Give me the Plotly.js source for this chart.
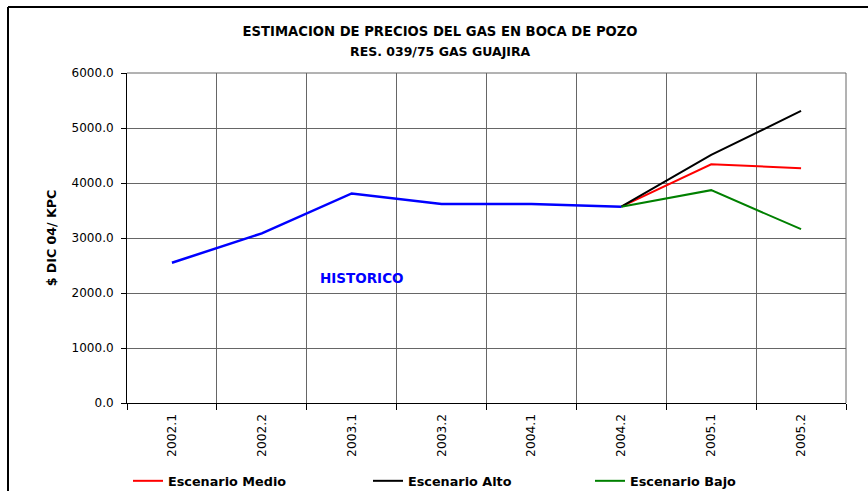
<!DOCTYPE html>
<html>
<head>
<meta charset="utf-8">
<script src="https://cdn.plot.ly/plotly-3.0.1.min.js"></script>
<style>
  html, body { margin: 0; padding: 0; background: #fff; }
  #chart { width: 868px; height: 491px; }
</style>
</head>
<body>
<div id="chart"></div>
<script>
// Categories (semesters)
const categories = ["2002.1", "2002.2", "2003.1", "2003.2", "2004.1", "2004.2", "2005.1", "2005.2"];

// Historical series (2002.1 – 2004.2)
const histCategories = ["2002.1", "2002.2", "2003.1", "2003.2", "2004.1", "2004.2"];
const histValues = [2550, 3085, 3810, 3620, 3620, 3570];

// Scenario series (2004.2 – 2005.2)
const scenCategories = ["2004.2", "2005.1", "2005.2"];
const medioValues = [3570, 4340, 4270];
const altoValues = [3570, 4510, 5310];
const bajoValues = [3570, 3870, 3160];

const yTicks = [0, 1000, 2000, 3000, 4000, 5000, 6000];

const FONT = "DejaVu Sans, Liberation Sans, Arial, sans-serif";

const traces = [
  { x: scenCategories, y: medioValues, type: "scatter", mode: "lines", name: "Escenario Medio",
    line: { color: "#FF0000", width: 2 }, legend: "legend" },
  { x: scenCategories, y: altoValues, type: "scatter", mode: "lines", name: "Escenario Alto",
    line: { color: "#000000", width: 2 }, legend: "legend2" },
  { x: scenCategories, y: bajoValues, type: "scatter", mode: "lines", name: "Escenario Bajo",
    line: { color: "#008000", width: 2 }, legend: "legend3" },
  { x: histCategories, y: histValues, type: "scatter", mode: "lines", name: "Historico",
    line: { color: "#0000FF", width: 2.5 }, showlegend: false }
];

const W = 868, H = 491, L = 127, R = 22, T = 73, B = 88;
const pw = W - L - R, ph = H - T - B;
const px = v => (v - L) / pw;
const py = v => (H - B - v) / ph;

const legendFont = { family: FONT, size: 12.8, color: "#000", weight: "bold" };
const legendBase = { orientation: "h", xanchor: "left", yanchor: "middle", y: py(481),
  font: legendFont, bgcolor: "rgba(0,0,0,0)", borderwidth: 0 };

const layout = {
  width: W, height: H,
  margin: { l: L, r: R, t: T, b: B, pad: 0, autoexpand: false },
  paper_bgcolor: "#fff", plot_bgcolor: "#fff",
  font: { family: FONT, size: 12, color: "#000" },
  title: {
    text: "<b>ESTIMACION DE PRECIOS DEL GAS EN BOCA DE POZO</b>",
    font: { family: FONT, size: 13.2, color: "#000" },
    x: 440 / W, xref: "container", xanchor: "center",
    y: 1 - 31 / H, yref: "container", yanchor: "middle"
  },
  xaxis: {
    type: "category",
    categoryarray: categories, categoryorder: "array",
    range: [-0.5, categories.length - 0.5],
    tickson: "boundaries",
    ticks: "outside", ticklen: 6, tickcolor: "#000", tickwidth: 1,
    tickangle: -90,
    ticklabelstandoff: 5,
    tickfont: { family: FONT, size: 12.3, color: "#000" },
    showgrid: true, gridcolor: "#666666", gridwidth: 1,
    showline: true, linecolor: "#000", linewidth: 1,
    zeroline: false, fixedrange: true, automargin: false
  },
  yaxis: {
    range: [0, 6000],
    tickvals: yTicks,
    tickformat: ".1f",
    ticks: "outside", ticklen: 5, tickcolor: "#000", tickwidth: 1,
    ticklabelstandoff: 5,
    tickfont: { family: FONT, size: 12, color: "#000" },
    showgrid: true, gridcolor: "#666666", gridwidth: 1,
    showline: true, linecolor: "#000", linewidth: 1,
    zeroline: false, fixedrange: true, automargin: false,
    title: { text: "<b>$ DIC 04/ KPC</b>", font: { family: FONT, size: 12.6, color: "#000" }, standoff: 12 }
  },
  showlegend: true,
  legend: Object.assign({}, legendBase, { x: px(128) }),
  legend2: Object.assign({}, legendBase, { x: px(368) }),
  legend3: Object.assign({}, legendBase, { x: px(590) }),
  annotations: [
    { text: "<b>RES. 039/75 GAS GUAJIRA</b>", xref: "paper", yref: "paper",
      x: px(440), y: py(52), xanchor: "center", yanchor: "middle", showarrow: false,
      font: { family: FONT, size: 12.5, color: "#000" } },
    { text: "<b>HISTORICO</b>", xref: "x", yref: "y",
      x: 2.11, y: 2270, xanchor: "center", yanchor: "middle", showarrow: false,
      font: { family: FONT, size: 13.5, color: "#0000FF" } }
  ],
  shapes: [
    { type: "line", xref: "paper", yref: "paper", x0: px(8), x1: px(8), y0: py(7), y1: py(495),
      line: { color: "#000", width: 2 } },
    { type: "line", xref: "paper", yref: "paper", x0: px(8), x1: px(870), y0: py(7), y1: py(7),
      line: { color: "#000", width: 2 } },
    { type: "line", xref: "paper", yref: "paper", x0: 1, x1: 1, y0: 0, y1: 1,
      line: { color: "#666666", width: 1 } },
    { type: "line", xref: "paper", yref: "paper", x0: 0, x1: 1, y0: 1, y1: 1,
      line: { color: "#666666", width: 1 } }
  ]
};

Plotly.newPlot("chart", traces, layout, { displayModeBar: false, staticPlot: true });
</script>
</body>
</html>
